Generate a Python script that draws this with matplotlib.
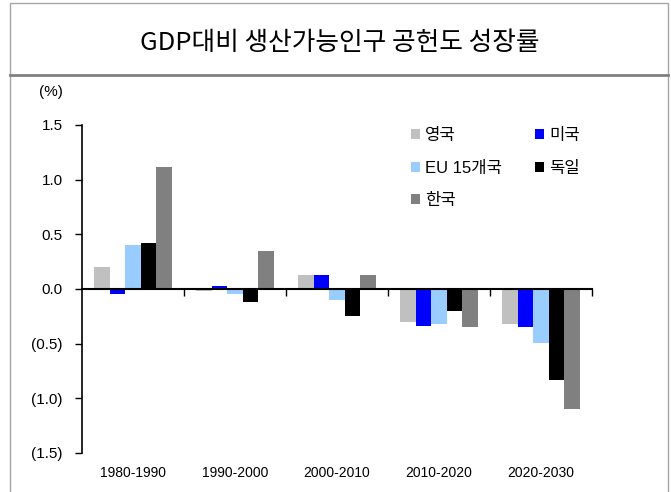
import matplotlib.pyplot as plt
import matplotlib.transforms as mtransforms
from matplotlib.lines import Line2D
from matplotlib.patches import Rectangle
import numpy as np

plt.rcParams['font.family'] = ['Liberation Sans', 'Noto Sans CJK KR', 'DejaVu Sans']

periods = ['1980-1990', '1990-2000', '2000-2010', '2010-2020', '2020-2030']
series_names = ['영국', '미국', 'EU 15개국', '독일', '한국']
uk = [0.20, -0.02, 0.13, -0.30, -0.32]
us = [-0.05, 0.03, 0.13, -0.34, -0.35]
eu15 = [0.40, -0.05, -0.10, -0.32, -0.49]
germany = [0.42, -0.12, -0.25, -0.20, -0.83]
korea = [1.11, 0.35, 0.13, -0.35, -1.10]
colors = ['#C0C0C0', '#0000FF', '#99CCFF', '#000000', '#808080']
y_ticks = [1.5, 1.0, 0.5, 0.0, -0.5, -1.0, -1.5]

fig = plt.figure(figsize=(6.71, 4.92), dpi=100)
ax = fig.add_axes([0.1222, 0.0793, 0.760, 0.667])

x = np.arange(len(periods))
w = 0.153
bars = {}
for k, (name, vals) in enumerate(zip(series_names, [uk, us, eu15, germany, korea])):
    bars[name] = ax.bar(x + (k - 2) * w, vals, w, color=colors[k], edgecolor='none', label=name)

ax.set_xlim(-0.5, len(periods) - 0.5)
ax.set_ylim(-1.5, 1.5)

# y axis
ax.set_yticks(y_ticks)
ax.set_yticklabels(['{:.1f}'.format(v) if v >= 0 else '({:.1f})'.format(-v) for v in y_ticks], fontsize=11)
ax.tick_params(axis='y', direction='out', length=5, width=1, pad=9)

# x axis drawn at zero, ticks at category boundaries
ax.spines['top'].set_visible(False)
ax.spines['right'].set_visible(False)
ax.spines['bottom'].set_position(('data', 0))
ax.spines['bottom'].set_linewidth(1.5)
ax.spines['left'].set_linewidth(1.2)
ax.set_xticks(np.arange(len(periods)) + 0.5)
ax.set_xticklabels([])
ax.tick_params(axis='x', direction='out', length=5, width=1)
trans = mtransforms.blended_transform_factory(ax.transData, ax.transAxes)
for i, p in enumerate(periods):
    ax.text(i, -0.04, p, transform=trans, ha='center', va='top', fontsize=10)

ax.text(-0.06, 1.10, '(%)', transform=ax.transAxes, ha='center', va='center', fontsize=11)

# legend: 영국, EU, 한국 | 미국, 독일
order = ['영국', 'EU 15개국', '한국', '미국', '독일']
ax.legend([bars[n] for n in order], order, ncol=2, loc='upper left',
          bbox_to_anchor=(0.615, 1.035), frameon=False, fontsize=12,
          handlelength=0.55, handleheight=0.55, handletextpad=0.3,
          columnspacing=2.0, labelspacing=1.05)

# title and frame
fig.text(0.507, 0.913, 'GDP대비 생산가능인구 공헌도 성장률', ha='center', va='center',
         fontsize=18.5, family=['Noto Sans CJK KR'])
fig.add_artist(Rectangle((10 / 671, -0.01), 658 / 671, 1 - 3 / 492 + 0.01,
                         transform=fig.transFigure, fill=False, edgecolor='#A6A6A6', lw=1))
fig.add_artist(Line2D([10 / 671, 668 / 671], [1 - 75 / 492, 1 - 75 / 492],
                      transform=fig.transFigure, color='#808080', lw=2))

fig.savefig('out.png', dpi=100)
